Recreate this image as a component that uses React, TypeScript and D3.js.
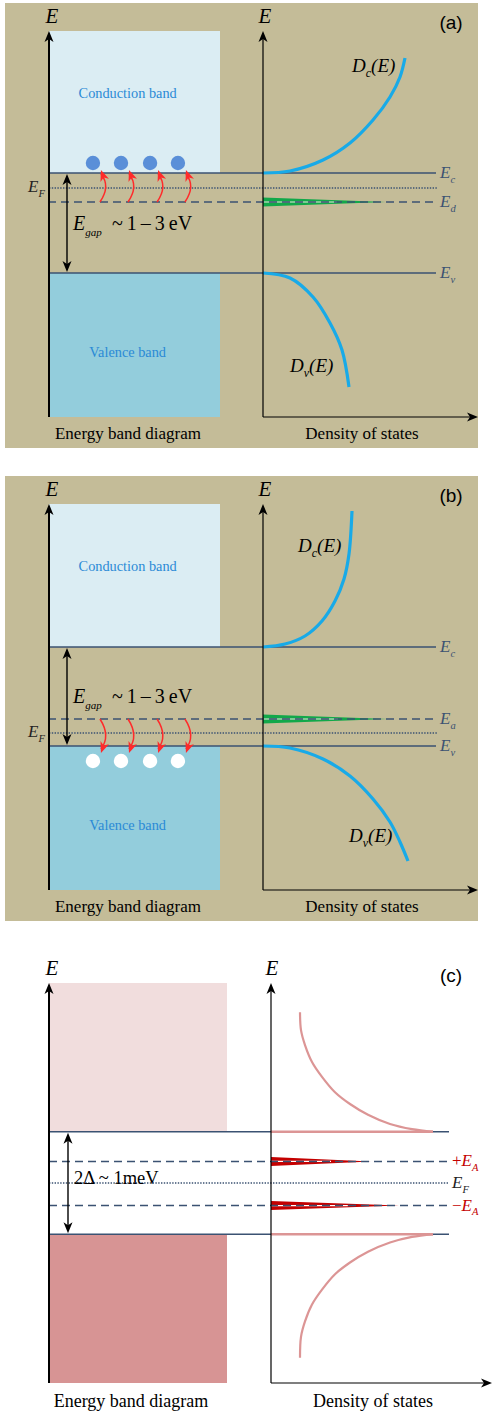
import React from "react";
import * as d3 from "d3";

// ---- panels (a) and (b): semiconductor, energies with Ev = 0, Ec ~ 1
const bandTop = 2.42;
const bandBottom = -1.44;

const levelNamesA = ["E_c", "E_d", "E_v"];
const levelValuesA = [1.0, 0.71, 0.0];
const fermiA = 0.85;

const levelNamesB = ["E_c", "E_a", "E_v"];
const levelValuesB = [0.99, 0.27, 0.0];
const fermiB = 0.13;

// carriers (electrons in a, holes in b), position across band diagram 0..10
const carrierPos = [2.57, 4.21, 5.91, 7.54];
const carrierEnergyA = 1.1;
const carrierEnergyB = -0.15;

// density of states curves, [energy, dos]
const dcA = [[1.0, 0], [1.02, 0.27], [1.13, 0.6], [1.3, 0.87], [1.53, 1.1], [1.76, 1.27], [1.96, 1.37], [2.15, 1.42]];
const dvA = [[0, 0], [-0.05, 0.27], [-0.24, 0.5], [-0.5, 0.67], [-0.77, 0.79], [-1.14, 0.86]];
const dcB = [[0.99, 0], [1.02, 0.22], [1.1, 0.42], [1.25, 0.59], [1.45, 0.72], [1.67, 0.81], [1.92, 0.86], [2.35, 0.89]];
const dvB = [[0, 0], [-0.02, 0.27], [-0.13, 0.6], [-0.3, 0.87], [-0.53, 1.1], [-0.76, 1.27], [-0.96, 1.37], [-1.15, 1.45]];
const impurityA = 1.23;
const impurityB = 1.25;

// ---- panel (c): superconductor, energies in units of Delta, EF = 0
const scTop = 3.9;
const scBottom = -3.9;
const gapEdge = 1.0;
const levelNamesC = ["+E_A", "E_F", "−E_A"];
const levelValuesC = [0.42, 0, -0.44];
const peaksC = [1.0, 1.28];
const qpUpper = [[3.33, 0.29], [2.98, 0.3], [2.69, 0.34], [2.36, 0.41], [2.07, 0.51], [1.77, 0.64], [1.54, 0.79], [1.33, 0.97], [1.15, 1.19], [1.05, 1.41], [1.0, 1.62]];
const qpLower = [[-1.0, 1.62], [-1.05, 1.41], [-1.16, 1.19], [-1.34, 0.97], [-1.55, 0.79], [-1.78, 0.64], [-2.08, 0.51], [-2.37, 0.41], [-2.7, 0.34], [-3.0, 0.3], [-3.41, 0.29]];

const serif = "'Liberation Serif', 'Times New Roman', serif";
const sans = "'Liberation Sans', Arial, sans-serif";
const navy = "#3b5272";

function Head({ x, y, rot = 0, fill = "#000" }) {
  return <path d="M0,0 L-4.5,11 L0,8 L4.5,11 Z" transform={`translate(${x},${y}) rotate(${rot})`} fill={fill} />;
}

function Sym({ x, y, label, size = 17, color = "#000", anchor = "start" }) {
  // label like "E_c" or "+E_A"
  const [head, sub] = label.split("_");
  const pre = head.slice(0, -1);
  const main = head.slice(-1);
  return (
    <text x={x} y={y} fontFamily={serif} fontSize={size} fill={color} textAnchor={anchor}>
      {pre}
      <tspan fontStyle="italic">{main}</tspan>
      <tspan fontStyle="italic" fontSize={size * 0.62} dy={size * 0.28}>{sub}</tspan>
    </text>
  );
}

function Dos({ x, y, sub }) {
  return (
    <text x={x} y={y} fontFamily={serif} fontSize={19} fontStyle="italic">
      D<tspan fontSize={12} dy={5}>{sub}</tspan>
      <tspan dy={-5}>(E)</tspan>
    </text>
  );
}

function Axes({ top, bottom, xl, xr, xEnd }) {
  return (
    <g>
      <line x1={xl} x2={xl} y1={top + 6} y2={bottom} stroke="#000" strokeWidth={2} />
      <Head x={xl} y={top} />
      <line x1={xr} x2={xr} y1={top + 6} y2={bottom} stroke="#000" strokeWidth={1.2} />
      <Head x={xr} y={top} />
      <line x1={xr} x2={xEnd - 6} y1={bottom} y2={bottom} stroke="#000" strokeWidth={1.2} />
      <Head x={xEnd} y={bottom} rot={90} />
    </g>
  );
}

function SemiPanel({ dy, tag, names, values, fermi, dc, dv, impurity, carrierE, holes, dcLab, dvLab }) {
  const y = d3.scaleLinear().domain([bandBottom, bandTop]).range([417 + dy, 31 + dy]);
  const xb = d3.scaleLinear().domain([0, 10]).range([49, 220]);
  const xd = d3.scaleLinear().domain([0, 2.15]).range([263, 478]);
  const curve = d3.line().x((d) => xd(d[1])).y((d) => y(d[0])).curve(d3.curveCatmullRom);
  const lineEnd = xd(1.73);
  const [ec, eimp, ev] = values;
  const yi = y(eimp);
  const arrowEnd = holes ? ev - 0.07 : ec + 0.03;
  return (
    <g>
      <rect x={5} y={3 + dy} width={473} height={445} fill="#c4bc98" />
      <rect x={xb(0)} y={y(bandTop)} width={xb(10) - xb(0)} height={y(ec) - y(bandTop)} fill="#dbedf3" />
      <rect x={xb(0)} y={y(ev)} width={xb(10) - xb(0)} height={y(bandBottom) - y(ev)} fill="#93cddc" />
      <text x={xb(4.6)} y={y(1.8) + 5} textAnchor="middle" fontFamily={serif} fontSize={14.3} fill="#2a8ad6">Conduction band</text>
      <text x={xb(4.6)} y={y(-0.79) + 5} textAnchor="middle" fontFamily={serif} fontSize={14.3} fill="#2a8ad6">Valence band</text>
      {/* levels */}
      <line x1={xb(0)} x2={lineEnd} y1={y(ec)} y2={y(ec)} stroke={navy} strokeWidth={1.6} />
      <line x1={xb(0)} x2={lineEnd} y1={y(ev)} y2={y(ev)} stroke={navy} strokeWidth={1.6} />
      <line x1={xb(0)} x2={lineEnd + 2} y1={y(fermi)} y2={y(fermi)} stroke={navy} strokeWidth={1.5} strokeDasharray="1.4,1.4" />
      <polygon points={`${xd(0)},${yi - 4.5} ${xd(impurity)},${yi} ${xd(0)},${yi + 4.5}`} fill="#12a84a" />
      <line x1={xd(0)} x2={xd(impurity * 0.6)} y1={yi} y2={yi} stroke="#e8eadb" strokeWidth={1.2} />
      <line x1={xb(0) - 1} x2={lineEnd + 2} y1={yi} y2={yi} stroke={navy} strokeWidth={1.6} strokeDasharray="8,5" />
      {names.map((n, i) => (
        <Sym key={n} x={440} y={y(values[i]) + 5} label={n} size={17} color={navy} />
      ))}
      <Sym x={28} y={y(fermi) + 4} label="E_F" size={17} color="#222" />
      {/* DOS */}
      <path d={curve(dc)} fill="none" stroke="#18aae8" strokeWidth={3.2} />
      <path d={curve(dv)} fill="none" stroke="#18aae8" strokeWidth={3.2} />
      <Dos x={dcLab[0]} y={dcLab[1] + dy} sub="c" />
      <Dos x={dvLab[0]} y={dvLab[1] + dy} sub="v" />
      {/* gap arrow */}
      <line x1={67} x2={67} y1={y(ec) + 8} y2={y(ev) - 8} stroke="#000" strokeWidth={1.4} />
      <Head x={67} y={y(ec) + 1} />
      <Head x={67} y={y(ev) - 1} rot={180} />
      <text x={73} y={y(0.43)} fontFamily={serif} fontSize={20}>
        <tspan fontStyle="italic">E</tspan>
        <tspan fontStyle="italic" fontSize={11} dy={6}>gap</tspan>
        <tspan dy={-6} x={112}>{"~\u20091\u2009–\u20093\u2009eV"}</tspan>
      </text>
      {/* carriers */}
      {carrierPos.map((p) => {
        const x0 = xb(p) + 7;
        const y0 = yi;
        const y1 = y(arrowEnd);
        return (
          <g key={p}>
            <circle cx={xb(p)} cy={y(carrierE)} r={7.2} fill={holes ? "#fff" : "#5a8fd8"} />
            <path d={`M${x0},${y0} Q${x0 + 11},${(y0 + y1) / 2} ${x0 + 1},${y1 + (holes ? -4 : 4)}`} fill="none" stroke="#ff2a2a" strokeWidth={1.5} />
            <Head x={x0 + 1} y={y1} rot={holes ? 200 : -20} fill="#ff2a2a" />
          </g>
        );
      })}
      <Axes top={31 + dy} bottom={417 + dy} xl={49} xr={263} xEnd={478} />
      <text x={52} y={23 + dy} textAnchor="middle" fontFamily={serif} fontStyle="italic" fontSize={21}>E</text>
      <text x={265} y={23 + dy} textAnchor="middle" fontFamily={serif} fontStyle="italic" fontSize={21}>E</text>
      <text x={451} y={29 + dy} textAnchor="middle" fontFamily={sans} fontSize={19}>{tag}</text>
      <text x={128} y={439 + dy} textAnchor="middle" fontFamily={serif} fontSize={17}>Energy band diagram</text>
      <text x={362} y={439 + dy} textAnchor="middle" fontFamily={serif} fontSize={17}>Density of states</text>
    </g>
  );
}

function ScPanel() {
  const y = d3.scaleLinear().domain([scBottom, scTop]).range([1383, 983]);
  const xb = d3.scaleLinear().domain([0, 10]).range([49, 227]);
  const xd = d3.scaleLinear().domain([0, 2.2]).range([271, 491]);
  const curve = d3.line().x((d) => xd(d[1])).y((d) => y(d[0])).curve(d3.curveCatmullRom);
  const lineEnd = xd(1.78);
  const pink = "#dc9595";
  return (
    <g>
      <rect x={xb(0)} y={y(scTop)} width={xb(10) - xb(0)} height={y(gapEdge) - y(scTop)} fill="#f1dddd" />
      <rect x={xb(0)} y={y(-gapEdge)} width={xb(10) - xb(0)} height={y(scBottom) - y(-gapEdge)} fill="#d79494" />
      <line x1={xb(0)} x2={lineEnd} y1={y(gapEdge)} y2={y(gapEdge)} stroke={navy} strokeWidth={1.5} />
      <line x1={xb(0)} x2={lineEnd} y1={y(-gapEdge)} y2={y(-gapEdge)} stroke={navy} strokeWidth={1.5} />
      <line x1={xd(0)} x2={xd(qpUpper[qpUpper.length - 1][1])} y1={y(gapEdge)} y2={y(gapEdge)} stroke={pink} strokeWidth={2.4} />
      <line x1={xd(0)} x2={xd(qpLower[0][1])} y1={y(-gapEdge)} y2={y(-gapEdge)} stroke={pink} strokeWidth={2.4} />
      <path d={curve(qpUpper)} fill="none" stroke={pink} strokeWidth={2.2} />
      <path d={curve(qpLower)} fill="none" stroke={pink} strokeWidth={2.2} />
      <line x1={xb(0)} x2={lineEnd} y1={y(0)} y2={y(0)} stroke={navy} strokeWidth={1.5} strokeDasharray="1.4,1.4" />
      {[levelValuesC[0], levelValuesC[2]].map((v, i) => {
        const yy = y(v);
        return (
          <g key={v}>
            <polygon points={`${xd(0)},${yy - 4.5} ${xd(peaksC[i])},${yy} ${xd(0)},${yy + 4.5}`} fill="#c40000" />
            <line x1={xd(0)} x2={xd(peaksC[i] * 0.6)} y1={yy} y2={yy} stroke="#fff" strokeWidth={1.2} />
            <line x1={xb(0)} x2={lineEnd} y1={yy} y2={yy} stroke={navy} strokeWidth={1.6} strokeDasharray="8,5" />
          </g>
        );
      })}
      {levelNamesC.map((n, i) => (
        <Sym key={n} x={452} y={y(levelValuesC[i]) + 5} label={n} size={17} color={n === "E_F" ? "#222" : "#c40000"} />
      ))}
      <line x1={68} x2={68} y1={y(gapEdge) + 8} y2={y(-gapEdge) - 8} stroke="#000" strokeWidth={1.4} />
      <Head x={68} y={y(gapEdge) + 1} />
      <Head x={68} y={y(-gapEdge) - 1} rot={180} />
      <text x={74} y={y(0) + 1} fontFamily={serif} fontSize={18.5}>2Δ ~ 1meV</text>
      <Axes top={983} bottom={1383} xl={49} xr={271} xEnd={492} />
      <text x={52} y={975} textAnchor="middle" fontFamily={serif} fontStyle="italic" fontSize={21}>E</text>
      <text x={272} y={975} textAnchor="middle" fontFamily={serif} fontStyle="italic" fontSize={21}>E</text>
      <text x={451} y={982} textAnchor="middle" fontFamily={sans} fontSize={19}>(c)</text>
      <text x={131} y={1407} textAnchor="middle" fontFamily={serif} fontSize={18}>Energy band diagram</text>
      <text x={373} y={1407} textAnchor="middle" fontFamily={serif} fontSize={18}>Density of states</text>
    </g>
  );
}

export default function App() {
  return (
    <svg width={492} height={1414} style={{ position: "absolute", left: 0, top: 0, background: "#fff" }}>
      <SemiPanel dy={0} tag="(a)" names={levelNamesA} values={levelValuesA} fermi={fermiA} dc={dcA} dv={dvA}
        impurity={impurityA} carrierE={carrierEnergyA} holes={false} dcLab={[352, 72]} dvLab={[290, 372]} />
      <SemiPanel dy={473} tag="(b)" names={levelNamesB} values={levelValuesB} fermi={fermiB} dc={dcB} dv={dvB}
        impurity={impurityB} carrierE={carrierEnergyB} holes={true} dcLab={[298, 79]} dvLab={[349, 369]} />
      <ScPanel />
    </svg>
  );
}
